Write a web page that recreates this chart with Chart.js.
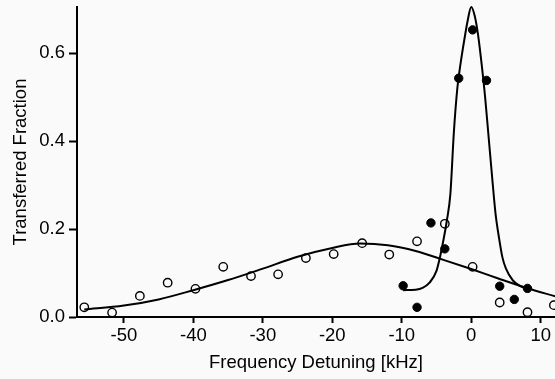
<!DOCTYPE html>
<html>
<head>
<meta charset="utf-8">
<script src="https://cdn.jsdelivr.net/npm/chart.js@4/dist/chart.umd.min.js"></script>
<style>
    html, body { margin: 0; padding: 0; background: #fafafa; }
    #wrap { width: 555px; height: 379px; }
</style>
</head>
<body>
<div id="wrap"><canvas id="chart"></canvas></div>
<script>
// --- Data ---
const openFreq = [-55.7, -51.7, -47.7, -43.7, -39.7, -35.7, -31.7, -27.8, -23.8, -19.8, -15.7, -11.8, -7.8, -3.8, 0.2, 4.1, 8.1, 11.9];
const openFrac = [0.022, 0.010, 0.048, 0.078, 0.064, 0.114, 0.093, 0.097, 0.134, 0.143, 0.168, 0.142, 0.172, 0.212, 0.114, 0.033, 0.011, 0.027];

const filledFreq = [-9.8, -7.8, -5.8, -3.8, -1.8, 0.2, 2.2, 4.1, 6.2, 8.1];
const filledFrac = [0.071, 0.022, 0.214, 0.155, 0.543, 0.653, 0.538, 0.070, 0.040, 0.065];

// broad fit curve
const broadFreq = [-55.7, -50, -45, -40, -35, -30, -25, -20, -16, -12, -8, -4, 0, 4, 8, 12.1];
const broadFrac = [0.017, 0.026, 0.040, 0.061, 0.084, 0.110, 0.137, 0.157, 0.167, 0.163, 0.150, 0.130, 0.109, 0.087, 0.066, 0.047];

// narrow fit curve
const narrowFreq = [-9.8, -8, -7, -6, -5, -4.5, -4, -3.5, -3, -2.5, -2, -1.5, -1, -0.5, 0, 0.5, 1, 1.5, 2, 2.5, 3, 3.5, 4, 4.5, 5, 6, 7, 8];
const narrowFrac = [0.061, 0.062, 0.066, 0.078, 0.105, 0.136, 0.175, 0.22, 0.28, 0.42, 0.52, 0.58, 0.63, 0.675, 0.705, 0.685, 0.64, 0.575, 0.50, 0.41, 0.32, 0.235, 0.18, 0.135, 0.11, 0.083, 0.071, 0.064];

const xTicks = [-50, -40, -30, -20, -10, 0, 10];
const yTicks = [0.0, 0.2, 0.4, 0.6];

const toPoints = (xs, ys) => xs.map((x, i) => ({ x, y: ys[i] }));

const FONT = 'Liberation Sans, Arial, sans-serif';
const SIZE = 18.5;

new Chart(document.getElementById('chart'), {
    type: 'scatter',
    data: {
        datasets: [
            {
                label: 'open',
                data: toPoints(openFreq, openFrac),
                pointStyle: 'circle',
                pointRadius: 4.2,
                pointBackgroundColor: 'rgba(0,0,0,0)',
                pointBorderColor: '#000',
                pointBorderWidth: 1.4,
                showLine: false,
                clip: false,
            },
            {
                label: 'filled',
                data: toPoints(filledFreq, filledFrac),
                pointStyle: 'circle',
                pointRadius: 4.2,
                pointBackgroundColor: '#000',
                pointBorderColor: '#000',
                pointBorderWidth: 1,
                showLine: false,
                clip: false,
            },
            {
                label: 'narrow fit',
                data: toPoints(narrowFreq, narrowFrac),
                showLine: true,
                pointRadius: 0,
                borderColor: '#000',
                borderWidth: 2,
                cubicInterpolationMode: 'monotone',
                clip: false,
            },
            {
                label: 'broad fit',
                data: toPoints(broadFreq, broadFrac),
                showLine: true,
                pointRadius: 0,
                borderColor: '#000',
                borderWidth: 2,
                cubicInterpolationMode: 'monotone',
                clip: false,
            }
        ]
    },
    options: {
        responsive: true,
        maintainAspectRatio: false,
        animation: false,
        layout: { autoPadding: false, padding: { top: 7, right: 0, left: 0, bottom: 0 } },
        plugins: { legend: { display: false }, tooltip: { enabled: false } },
        scales: {
            x: {
                type: 'linear',
                min: -56.75,
                max: 12.06,
                afterFit: s => { s.height = 62; s.paddingLeft = 0; s.paddingRight = 0; },
                afterBuildTicks: s => { s.ticks = xTicks.map(v => ({ value: v })); },
                grid: { display: true, drawOnChartArea: false, drawTicks: true, tickLength: 6, tickWidth: 2, tickColor: '#000' },
                border: { display: true, color: '#000', width: 2 },
                ticks: { color: '#000', font: { family: FONT, size: SIZE }, padding: 2, maxRotation: 0 },
                title: { display: true, text: 'Frequency Detuning [kHz]', color: '#000', font: { family: FONT, size: SIZE }, padding: { top: 0, bottom: 4.5 } }
            },
            y: {
                min: 0,
                max: 0.705,
                afterFit: s => { s.width = 77; s.paddingTop = 0; s.paddingBottom = 0; },
                afterBuildTicks: s => { s.ticks = yTicks.map(v => ({ value: v })); },
                grid: { display: true, drawOnChartArea: false, drawTicks: true, tickLength: 8, tickWidth: 2, tickColor: '#000' },
                border: { display: true, color: '#000', width: 2 },
                ticks: { color: '#000', font: { family: FONT, size: SIZE }, padding: 4, callback: v => v.toFixed(1) },
                title: { display: true, text: 'Transferred Fraction', color: '#000', font: { family: FONT, size: SIZE }, padding: { top: 9.4, bottom: 0 } }
            }
        }
    }
});
</script>
</body>
</html>
